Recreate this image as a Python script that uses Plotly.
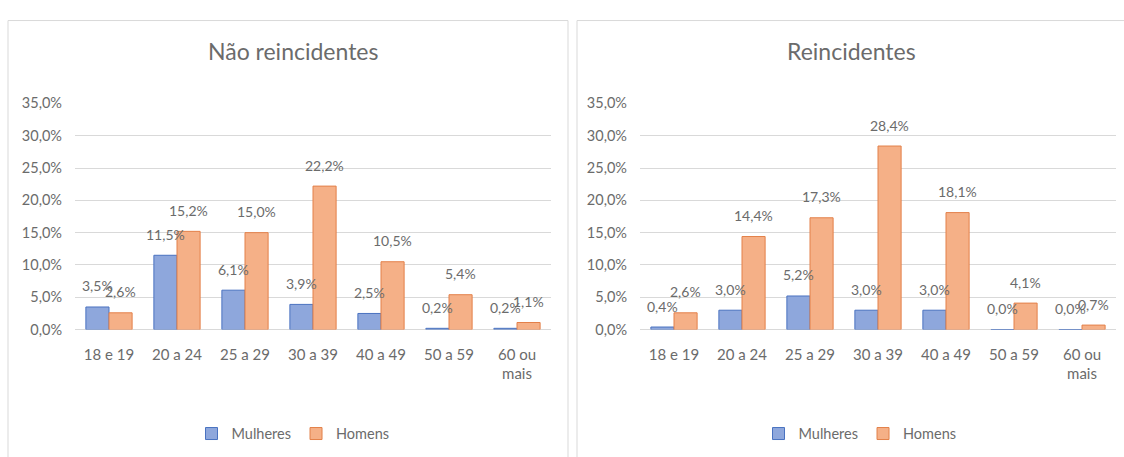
import plotly.graph_objects as go

# Age groups and shares (%) by sex
categorias = ["18 e 19", "20 a 24", "25 a 29", "30 a 39", "40 a 49", "50 a 59", "60 ou<br>mais"]
nao_reinc_mulheres = [3.5, 11.5, 6.1, 3.9, 2.5, 0.2, 0.2]
nao_reinc_homens = [2.6, 15.2, 15.0, 22.2, 10.5, 5.4, 1.1]
reinc_mulheres = [0.4, 3.0, 5.2, 3.0, 3.0, 0.0, 0.0]
reinc_homens = [2.6, 14.4, 17.3, 28.4, 18.1, 4.1, 0.7]
titulos = ["Não reincidentes", "Reincidentes"]

W, H = 1124, 457
FONT = "Lato"
GRAY = "#6b6b6b"
GRID = "#d9d9d9"
BLUE_FILL, BLUE_LINE = "#8ea7dc", "#4a72c0"
ORANGE_FILL, ORANGE_LINE = "#f5b087", "#e3804a"
BARGAP = 0.32
HALF = (1 - BARGAP) / 4  # offset of each bar centre from the category centre


def px_x(p):
    return p / W


def px_y(p):
    return 1 - p / H


fig = go.Figure()

panels = [
    (nao_reinc_mulheres, nao_reinc_homens, "x", "y", "legend", (75, 551), 293, 293),
    (reinc_mulheres, reinc_homens, "x2", "y2", "legend2", (640, 1116), 851, 860),
]

annotations = []
for idx, (mul, hom, xa, ya, leg, (xl, xr), title_x, leg_x) in enumerate(panels):
    fig.add_trace(go.Bar(
        x=categorias, y=mul, name="Mulheres", xaxis=xa, yaxis=ya, legend=leg,
        marker=dict(color=BLUE_FILL, line=dict(color=BLUE_LINE, width=1)),
        hoverinfo="skip",
    ))
    fig.add_trace(go.Bar(
        x=categorias, y=hom, name="Homens", xaxis=xa, yaxis=ya, legend=leg,
        marker=dict(color=ORANGE_FILL, line=dict(color=ORANGE_LINE, width=1)),
        hoverinfo="skip",
    ))
    # value labels above each bar
    for i, (vm, vh) in enumerate(zip(mul, hom)):
        for v, dx in ((vm, -HALF), (vh, HALF)):
            annotations.append(dict(
                x=i + dx, y=v, xref=xa, yref=ya, yshift=21,
                xanchor="center", yanchor="middle",
                text=f"{v:.1f}%".replace(".", ","), showarrow=False,
                font=dict(family=FONT, size=14, color=GRAY),
            ))
    annotations.append(dict(
        x=px_x(title_x), y=px_y(44), xref="paper", yref="paper",
        xanchor="center", yanchor="middle",
        text=titulos[idx], showarrow=False,
        font=dict(family=FONT, size=23, color=GRAY),
    ))

    axis_x = dict(
        domain=[px_x(xl), px_x(xr)], type="category",
        showgrid=False, showline=False, zeroline=False, ticks="",
        tickfont=dict(family=FONT, size=15, color=GRAY),
        ticklabelstandoff=14, fixedrange=True,
    )
    axis_y = dict(
        domain=[px_y(333), px_y(98)], range=[0, 35], dtick=5,
        tickformat=".1f", ticksuffix="%",
        showgrid=True, gridcolor=GRID, gridwidth=1,
        zeroline=True, zerolinecolor=GRID, zerolinewidth=1,
        showline=False, ticks="",
        tickfont=dict(family=FONT, size=14.5, color=GRAY),
        ticklabelstandoff=12, fixedrange=True,
    )
    legend = dict(
        orientation="h", x=px_x(leg_x), xanchor="center",
        y=px_y(441), yanchor="middle",
        font=dict(family=FONT, size=14.5, color=GRAY),
        bgcolor="rgba(0,0,0,0)", itemwidth=30, traceorder="normal",
    )
    if idx == 0:
        fig.update_layout(xaxis=axis_x, yaxis=axis_y, legend=legend)
    else:
        axis_x["anchor"] = "y2"
        axis_y["anchor"] = "x2"
        fig.update_layout(xaxis2=axis_x, yaxis2=axis_y, legend2=legend)

# chart frames
shapes = [
    dict(type="rect", xref="paper", yref="paper",
         x0=px_x(8), x1=px_x(568), y0=-0.05, y1=px_y(12),
         line=dict(color=GRID, width=1), fillcolor="rgba(0,0,0,0)", layer="below"),
    dict(type="rect", xref="paper", yref="paper",
         x0=px_x(577), x1=1.05, y0=-0.05, y1=px_y(12),
         line=dict(color=GRID, width=1), fillcolor="rgba(0,0,0,0)", layer="below"),
]

fig.update_layout(
    width=W, height=H,
    margin=dict(l=0, r=0, t=0, b=0),
    paper_bgcolor="white", plot_bgcolor="white",
    barmode="group", bargap=BARGAP, bargroupgap=0,
    separators=",.",
    annotations=annotations, shapes=shapes,
    font=dict(family=FONT, color=GRAY),
)

fig.write_html("out.html", config={"displayModeBar": False})
